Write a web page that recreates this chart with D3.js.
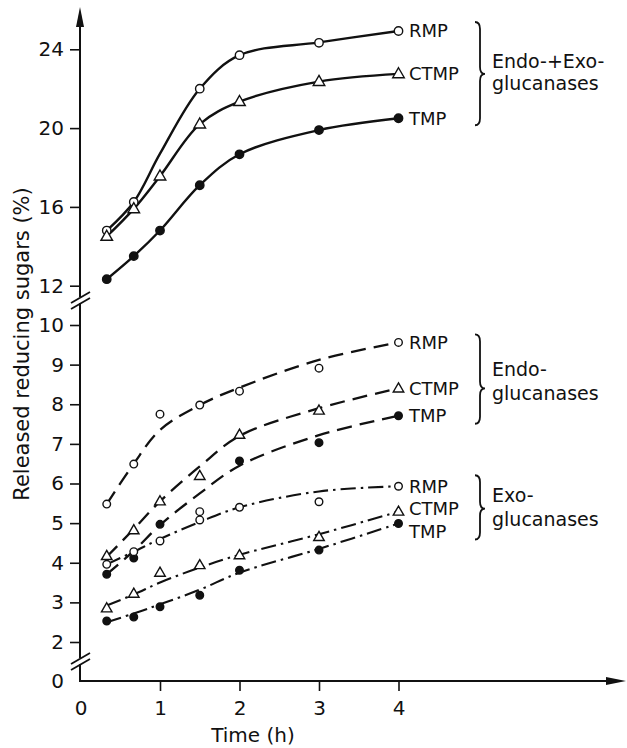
<!DOCTYPE html>
<html>
<head>
<meta charset="utf-8">
<script src="https://cdnjs.cloudflare.com/ajax/libs/d3/7.8.5/d3.min.js"></script>
<style>
  body { margin: 0; background: #fff; }
  svg text { font-family: "DejaVu Sans", sans-serif; fill: #111; }
</style>
</head>
<body>
<svg id="chart" width="627" height="748"></svg>
<script>
// time points (h)
var times = [0.33, 0.67, 1, 1.5, 2, 3, 4];

// Endo- + Exo-glucanases (solid lines), curve knots at each time
var bothRMPCurve  = [14.8, 16.25, 18.7, 22.0, 23.7, 24.35, 24.93];
var bothCTMPCurve = [14.5, 15.9, 17.56, 20.2, 21.34, 22.36, 22.75];
var bothTMPCurve  = [12.33, 13.5, 14.8, 17.1, 18.67, 19.9, 20.5];
// measured points
var bothRMPTimes = [0.33, 0.67, 1.5, 2, 3, 4];
var bothRMP      = [14.8, 16.25, 22.0, 23.7, 24.33, 24.93];
var bothCTMP     = [14.5, 15.9, 17.56, 20.2, 21.34, 22.36, 22.75];
var bothTMP      = [12.33, 13.5, 14.8, 17.1, 18.67, 19.9, 20.5];

// Endoglucanases (dashed)
var endoRMPCurve  = [5.48, 6.5, 7.35, 7.98, 8.42, 9.12, 9.56];
var endoCTMPCurve = [4.15, 4.85, 5.55, 6.43, 7.2, 7.9, 8.4];
var endoTMPCurve  = [3.71, 4.3, 4.95, 5.75, 6.45, 7.22, 7.71];
var endoRMP      = [5.48, 6.49, 7.75, 7.98, 8.33, 8.91, 9.56];
var endoCTMP     = [4.17, 4.82, 5.55, 6.19, 7.23, 7.84, 8.4];
var endoTMPTimes = [0.33, 0.67, 1, 2, 3, 4];
var endoTMP      = [3.71, 4.12, 4.97, 6.57, 7.03, 7.71];

// Exoglucanases (dash-dot)
var exoRMPCurve  = [3.96, 4.28, 4.6, 5.03, 5.4, 5.8, 5.93];
var exoCTMPCurve = [2.92, 3.2, 3.5, 3.88, 4.2, 4.72, 5.29];
var exoTMPCurve  = [2.5, 2.72, 2.95, 3.32, 3.75, 4.35, 4.99];
var exoRMPTimes = [0.33, 0.67, 1, 1.5, 1.5, 2, 3, 4];
var exoRMP      = [3.96, 4.28, 4.55, 5.29, 5.08, 5.4, 5.54, 5.93];
var exoCTMP     = [2.85, 3.22, 3.75, 3.94, 4.19, 4.65, 5.29];
var exoTMP      = [2.53, 2.63, 2.89, 3.18, 3.81, 4.32, 4.99];

var xTicks = [0, 1, 2, 3, 4];
var yTicks = [0, 2, 3, 4, 5, 6, 7, 8, 9, 10, 12, 16, 20, 24];

var svg = d3.select("#chart");

var x = d3.scaleLinear().domain([0, 4]).range([80.5, 398.5]);
// broken axis: 0-2 squeezed, 10-12 squeezed
var y = d3.scaleLinear()
    .domain([0, 2, 10, 12, 24])
    .range([681, 642, 325, 285.7, 49.3]);

var ink = "#111";

// axes
var yAxis = d3.axisLeft(y).tickValues(yTicks).tickSize(10).tickPadding(6)
    .tickFormat(d3.format("d"));
var gy = svg.append("g").attr("transform", "translate(80,0)").call(yAxis);
gy.select(".domain").remove();
gy.selectAll(".tick line").attr("stroke", ink).attr("stroke-width", 1.6);
gy.selectAll(".tick text").style("font-size", "20px").attr("fill", ink);
gy.selectAll(".tick").filter(function (d) { return d === 0; }).select("line").remove();

var xAxis = d3.axisBottom(x).tickValues(xTicks).tickSize(10).tickPadding(10)
    .tickFormat(d3.format("d"));
var gx = svg.append("g").attr("transform", "translate(0,681)").call(xAxis);
gx.select(".domain").remove();
gx.selectAll(".tick line").attr("stroke", ink).attr("stroke-width", 1.6);
gx.selectAll(".tick").filter(function (d) { return d === 0; }).select("line").remove();
gx.selectAll(".tick text").style("font-size", "20px").attr("fill", ink);

// axis lines with breaks
var axisG = svg.append("g").attr("stroke", ink).attr("stroke-width", 2).attr("fill", "none");
axisG.append("path").attr("d", "M80,22 V297 M80,303 V658 M80,664 V681 H612");
// break marks
[[297, 303], [658, 664]].forEach(function (b) {
    b.forEach(function (yy) {
        axisG.append("line")
            .attr("x1", 71).attr("y1", yy + 6)
            .attr("x2", 90).attr("y2", yy - 5)
            .attr("stroke-width", 1.8);
    });
});
// arrows
svg.append("path").attr("d", "M80,7 L76,27 L84,27 Z").attr("fill", ink);
svg.append("path").attr("d", "M626,681 L606,677 L606,685 Z").attr("fill", ink);

// axis titles
svg.append("text")
    .attr("transform", "translate(29,344) rotate(-90)")
    .attr("text-anchor", "middle")
    .style("font-size", "21px")
    .text("Released reducing sugars (%)");
svg.append("text")
    .attr("x", 253).attr("y", 742)
    .attr("text-anchor", "middle")
    .style("font-size", "20px")
    .text("Time (h)");

// curves
var line = d3.line()
    .curve(d3.curveCatmullRom.alpha(0.5))
    .x(function (d) { return x(d[0]); })
    .y(function (d) { return y(d[1]); });

function pairs(ts, vs) {
    return vs.map(function (v, i) { return [ts[i], v]; });
}

var series = [
    { curve: bothRMPCurve,  t: bothRMPTimes, v: bothRMP,  mark: "open",   dash: null, w: 2.4 },
    { curve: bothCTMPCurve, t: times,        v: bothCTMP, mark: "tri",    dash: null, w: 2.4 },
    { curve: bothTMPCurve,  t: times,        v: bothTMP,  mark: "filled", dash: null, w: 2.4 },
    { curve: endoRMPCurve,  t: times,        v: endoRMP,  mark: "open",   dash: "15,8", w: 2.3 },
    { curve: endoCTMPCurve, t: times,        v: endoCTMP, mark: "tri",    dash: "15,8", w: 2.3 },
    { curve: endoTMPCurve,  t: endoTMPTimes, v: endoTMP,  mark: "filled", dash: "15,8", w: 2.3 },
    { curve: exoRMPCurve,   t: exoRMPTimes,  v: exoRMP,   mark: "open",   dash: "15,5,2.5,5", w: 2.1 },
    { curve: exoCTMPCurve,  t: times,        v: exoCTMP,  mark: "tri",    dash: "15,5,2.5,5", w: 2.1 },
    { curve: exoTMPCurve,   t: times,        v: exoTMP,   mark: "filled", dash: "15,5,2.5,5", w: 2.1 }
];

series.forEach(function (s) {
    svg.append("path")
        .datum(pairs(times, s.curve))
        .attr("fill", "none")
        .attr("stroke", ink)
        .attr("stroke-width", s.w)
        .attr("stroke-dasharray", s.dash)
        .attr("d", line);
});

var tri = d3.symbol().type(d3.symbolTriangle);
series.forEach(function (s, si) {
    var small = si >= 3;
    var pts = pairs(s.t, s.v);
    var g = svg.append("g");
    if (s.mark === "tri") {
        g.selectAll("path").data(pts).enter().append("path")
            .attr("d", tri.size(small ? 48 : 58)())
            .attr("transform", function (d) { return "translate(" + x(d[0]) + "," + (y(d[1]) + 0.5) + ")"; })
            .attr("fill", "#fff").attr("stroke", ink).attr("stroke-width", 1.4);
    } else {
        g.selectAll("circle").data(pts).enter().append("circle")
            .attr("cx", function (d) { return x(d[0]); })
            .attr("cy", function (d) { return y(d[1]); })
            .attr("r", small ? 3.8 : 4.2)
            .attr("fill", s.mark === "filled" ? ink : "#fff")
            .attr("stroke", ink).attr("stroke-width", 1.4);
    }
});

// series labels
var labelNames = ["RMP", "CTMP", "TMP"];
var labelOffsets = [0, 0, 0, 0, 0, 0, 0, -3, 8];
series.forEach(function (s, si) {
    svg.append("text")
        .attr("x", 409)
        .attr("y", y(s.curve[s.curve.length - 1]) + labelOffsets[si])
        .attr("dominant-baseline", "central")
        .style("font-size", "18px")
        .text(labelNames[si % 3]);
});

// group braces and names
function brace(xb, y0, ym, y1) {
    var w = 5, r = 7;
    return "M" + xb + "," + y0 +
        " Q" + (xb + w) + "," + y0 + " " + (xb + w) + "," + (y0 + r) +
        " L" + (xb + w) + "," + (ym - r) +
        " Q" + (xb + w) + "," + ym + " " + (xb + 2 * w) + "," + ym +
        " Q" + (xb + w) + "," + ym + " " + (xb + w) + "," + (ym + r) +
        " L" + (xb + w) + "," + (y1 - r) +
        " Q" + (xb + w) + "," + y1 + " " + xb + "," + y1;
}
var groups = [
    { top: y(bothRMPCurve[6]) - 9, mid: y(bothCTMPCurve[6]), bot: y(bothTMPCurve[6]) + 7, l1: "Endo-+Exo-", l2: "glucanases", d1: -13, d2: 9 },
    { top: y(endoRMPCurve[6]) - 8, mid: y(endoCTMPCurve[6]), bot: y(endoTMPCurve[6]) + 8, l1: "Endo-", l2: "glucanases", d1: -19, d2: 5 },
    { top: y(exoRMPCurve[6]) - 11, mid: y(exoCTMPCurve[6]) - 3, bot: y(exoTMPCurve[6]) + 16, l1: "Exo-", l2: "glucanases", d1: -14, d2: 10 }
];
groups.forEach(function (g) {
    svg.append("path")
        .attr("d", brace(475, g.top, g.mid, g.bot))
        .attr("fill", "none").attr("stroke", ink).attr("stroke-width", 1.8);
    svg.append("text").attr("x", 492).attr("y", g.mid + g.d1)
        .attr("dominant-baseline", "central").style("font-size", "19px").text(g.l1);
    svg.append("text").attr("x", 492).attr("y", g.mid + g.d2)
        .attr("dominant-baseline", "central").style("font-size", "19px").text(g.l2);
});
</script>
</body>
</html>
